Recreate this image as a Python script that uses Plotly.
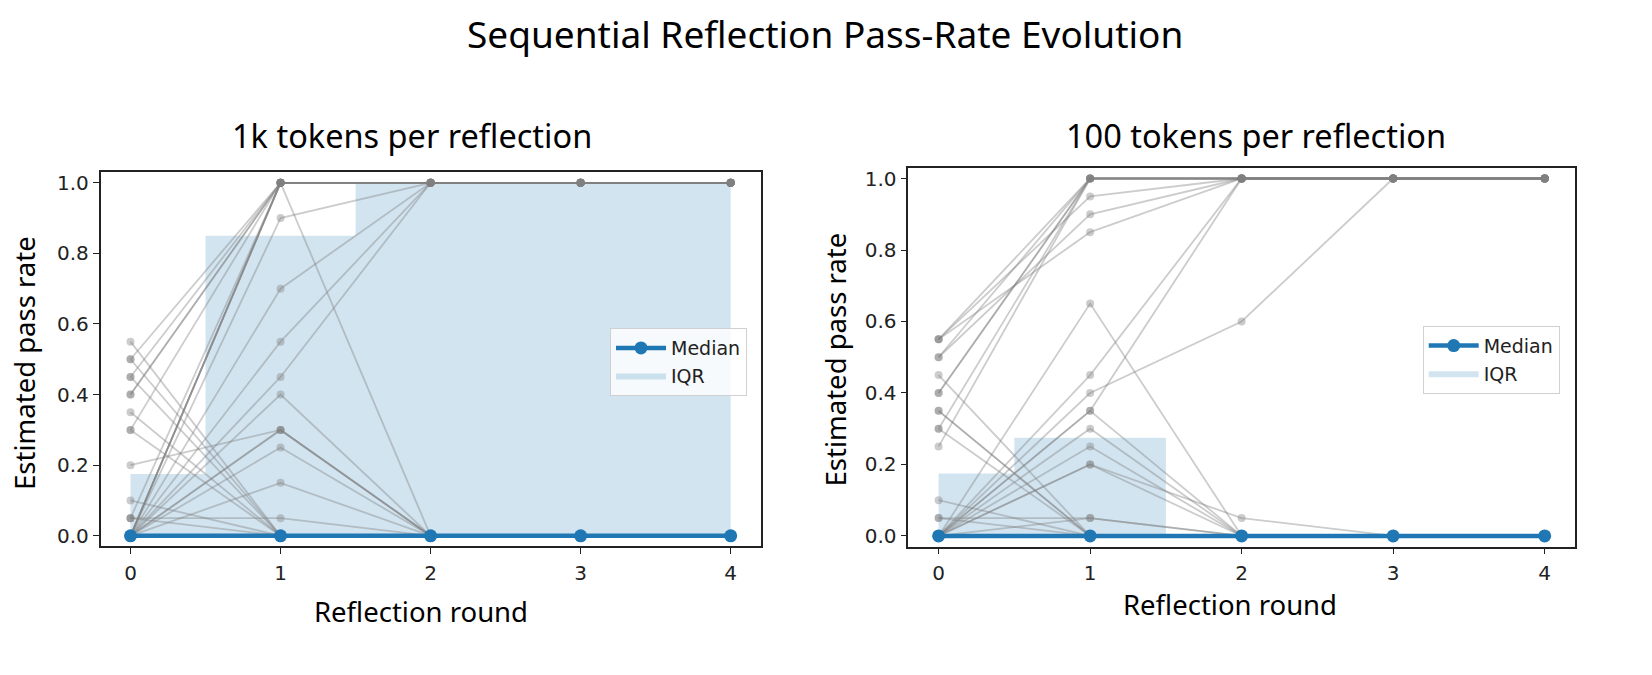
import plotly.graph_objects as go

# ---------------- data ----------------
rounds = [0, 1, 2, 3, 4]

# 1k tokens per reflection: individual trajectories
traj_1k = [
    [0.55, 0.0, 0.0, 0.0, 0.0],
    [0.50, 1.0, 1.0, 1.0, 1.0],
    [0.50, 0.0, 0.0, 0.0, 0.0],
    [0.45, 1.0, 1.0, 1.0, 1.0],
    [0.45, 0.0, 0.0, 0.0, 0.0],
    [0.40, 1.0, 1.0, 1.0, 1.0],
    [0.40, 1.0, 1.0, 1.0, 1.0],
    [0.35, 0.0, 0.0, 0.0, 0.0],
    [0.30, 1.0, 1.0, 1.0, 1.0],
    [0.30, 0.0, 0.0, 0.0, 0.0],
    [0.20, 0.30, 0.0, 0.0, 0.0],
    [0.10, 0.0, 0.0, 0.0, 0.0],
    [0.05, 0.05, 0.0, 0.0, 0.0],
    [0.05, 1.0, 1.0, 1.0, 1.0],
    [0.05, 0.0, 0.0, 0.0, 0.0],
    [0.0, 1.0, 1.0, 1.0, 1.0],
    [0.0, 1.0, 1.0, 1.0, 1.0],
    [0.0, 1.0, 1.0, 1.0, 1.0],
    [0.0, 1.0, 0.0, 0.0, 0.0],
    [0.0, 0.90, 1.0, 1.0, 1.0],
    [0.0, 0.70, 1.0, 1.0, 1.0],
    [0.0, 0.55, 1.0, 1.0, 1.0],
    [0.0, 0.45, 1.0, 1.0, 1.0],
    [0.0, 0.40, 0.0, 0.0, 0.0],
    [0.0, 0.30, 0.0, 0.0, 0.0],
    [0.0, 0.30, 0.0, 0.0, 0.0],
    [0.0, 0.25, 0.0, 0.0, 0.0],
    [0.0, 0.15, 0.0, 0.0, 0.0],
    [0.0, 0.0, 0.0, 0.0, 0.0],
]
median_1k = [0.0, 0.0, 0.0, 0.0, 0.0]
q1_1k = [0.0, 0.0, 0.0, 0.0, 0.0]
q3_1k = [0.175, 0.85, 1.0, 1.0, 1.0]

# 100 tokens per reflection: individual trajectories
traj_100 = [
    [0.55, 1.0, 1.0, 1.0, 1.0],
    [0.55, 0.95, 1.0, 1.0, 1.0],
    [0.55, 0.85, 1.0, 1.0, 1.0],
    [0.50, 1.0, 1.0, 1.0, 1.0],
    [0.50, 0.90, 1.0, 1.0, 1.0],
    [0.45, 0.0, 0.0, 0.0, 0.0],
    [0.40, 1.0, 1.0, 1.0, 1.0],
    [0.40, 1.0, 1.0, 1.0, 1.0],
    [0.35, 0.0, 0.0, 0.0, 0.0],
    [0.35, 0.0, 0.0, 0.0, 0.0],
    [0.30, 0.0, 0.0, 0.0, 0.0],
    [0.30, 1.0, 1.0, 1.0, 1.0],
    [0.25, 1.0, 1.0, 1.0, 1.0],
    [0.10, 0.0, 0.0, 0.0, 0.0],
    [0.05, 0.0, 0.0, 0.0, 0.0],
    [0.05, 0.05, 0.0, 0.0, 0.0],
    [0.0, 0.65, 0.0, 0.0, 0.0],
    [0.0, 0.45, 1.0, 1.0, 1.0],
    [0.0, 0.40, 0.60, 1.0, 1.0],
    [0.0, 0.35, 1.0, 1.0, 1.0],
    [0.0, 0.35, 0.0, 0.0, 0.0],
    [0.0, 0.30, 0.0, 0.0, 0.0],
    [0.0, 0.25, 0.0, 0.0, 0.0],
    [0.0, 0.20, 0.05, 0.0, 0.0],
    [0.0, 0.20, 0.0, 0.0, 0.0],
    [0.0, 0.05, 0.0, 0.0, 0.0],
    [0.0, 0.0, 0.0, 0.0, 0.0],
]
median_100 = [0.0, 0.0, 0.0, 0.0, 0.0]
q1_100 = [0.0, 0.0, 0.0, 0.0, 0.0]
q3_100 = [0.175, 0.275, 0.0, 0.0, 0.0]

main_title = "Sequential Reflection Pass-Rate Evolution"
panel_titles = ["1k tokens per reflection", "100 tokens per reflection"]
x_label = "Reflection round"
y_label = "Estimated pass rate"
x_ticks = [0, 1, 2, 3, 4]
y_ticks = [0.0, 0.2, 0.4, 0.6, 0.8, 1.0]

# ---------------- styles ----------------
W, H = 1652, 675
BLUE = "#1f77b4"
GRAY = "rgba(128,128,128,0.4)"
FILL = "rgba(31,119,180,0.2)"
TXT_FONT = "Noto Sans, Open Sans, sans-serif"
TICK_FONT = "DejaVu Sans, sans-serif"

fig = go.Figure()

panels = [
    dict(traj=traj_1k, med=median_1k, q1=q1_1k, q3=q3_1k, xa="x", ya="y", leg="legend"),
    dict(traj=traj_100, med=median_100, q1=q1_100, q3=q3_100, xa="x2", ya="y2", leg="legend2"),
]

for p in panels:
    # IQR band (step at mid-points)
    fig.add_trace(go.Scatter(
        x=rounds, y=p["q1"], mode="lines", line=dict(width=0, shape="hvh"),
        showlegend=False, hoverinfo="skip", xaxis=p["xa"], yaxis=p["ya"]))
    fig.add_trace(go.Scatter(
        x=rounds, y=p["q3"], mode="lines", line=dict(width=0, shape="hvh"),
        fill="tonexty", fillcolor=FILL, name="IQR", legend=p["leg"],
        hoverinfo="skip", xaxis=p["xa"], yaxis=p["ya"]))
    # individual trajectories
    for t in p["traj"]:
        fig.add_trace(go.Scatter(
            x=rounds, y=t, mode="lines+markers",
            line=dict(color=GRAY, width=1.8),
            marker=dict(color=GRAY, size=8, line=dict(width=0)),
            showlegend=False, hoverinfo="skip", xaxis=p["xa"], yaxis=p["ya"]))
    # median
    fig.add_trace(go.Scatter(
        x=rounds, y=p["med"], mode="lines+markers", name="Median",
        line=dict(color=BLUE, width=4.5), marker=dict(color=BLUE, size=13),
        legend=p["leg"], xaxis=p["xa"], yaxis=p["ya"]))

axis_common = dict(
    showgrid=False, zeroline=False, showline=True, mirror=True,
    linecolor="#222", linewidth=1.5, ticks="outside", ticklen=6, tickwidth=1.3,
    tickcolor="#222", tickfont=dict(family=TICK_FONT, size=20, color="#222"),
)

legend_common = dict(
    xanchor="left", yanchor="top", traceorder="reversed",
    bgcolor="rgba(255,255,255,0.8)", bordercolor="#d0d0d0", borderwidth=1,
    font=dict(family=TICK_FONT, size=19, color="#222"), itemwidth=50,
    tracegroupgap=2,
)

fig.update_layout(
    width=W, height=H, autosize=False,
    margin=dict(l=0, r=0, t=0, b=0),
    paper_bgcolor="white", plot_bgcolor="white",
    xaxis=dict(domain=[100.5 / W, 760.7 / W], range=[-0.2, 4.2], tickvals=x_ticks,
               anchor="y", ticklabelstandoff=2, **axis_common),
    yaxis=dict(domain=[(H - 547) / H, (H - 171.7) / H], range=[-0.03, 1.03],
               tickvals=y_ticks, tickformat=".1f", anchor="x", **axis_common),
    xaxis2=dict(domain=[908.3 / W, 1575 / W], range=[-0.2, 4.2], tickvals=x_ticks,
                anchor="y2", ticklabelstandoff=2, **axis_common),
    yaxis2=dict(domain=[(H - 547.3) / H, (H - 167.3) / H], range=[-0.03, 1.03],
                tickvals=y_ticks, tickformat=".1f", anchor="x2", **axis_common),
    legend=dict(x=610 / W, y=(H - 328) / H, **legend_common),
    legend2=dict(x=1422.7 / W, y=(H - 325.7) / H, **legend_common),
    showlegend=True,
)

ann = []
ann.append(dict(text=main_title, x=825 / W, y=(H - 33) / H, xref="paper", yref="paper",
                xanchor="center", yanchor="middle", showarrow=False,
                font=dict(family=TXT_FONT, size=37, color="black")))
ann.append(dict(text=panel_titles[0], x=411.5 / W, y=(H - 135) / H, xref="paper", yref="paper",
                xanchor="center", yanchor="middle", showarrow=False,
                font=dict(family=TXT_FONT, size=32.5, color="black")))
ann.append(dict(text=panel_titles[1], x=1256 / W, y=(H - 135) / H, xref="paper", yref="paper",
                xanchor="center", yanchor="middle", showarrow=False,
                font=dict(family=TXT_FONT, size=32.5, color="black")))
ann.append(dict(text=x_label, x=421.4 / W, y=(H - 612) / H, xref="paper", yref="paper",
                xanchor="center", yanchor="middle", showarrow=False,
                font=dict(family=TXT_FONT, size=27.5, color="black")))
ann.append(dict(text=x_label, x=1230 / W, y=(H - 605) / H, xref="paper", yref="paper",
                xanchor="center", yanchor="middle", showarrow=False,
                font=dict(family=TXT_FONT, size=27.5, color="black")))
ann.append(dict(text=y_label, x=25 / W, y=(H - 363) / H, xref="paper", yref="paper",
                xanchor="center", yanchor="middle", showarrow=False, textangle=-90,
                font=dict(family=TXT_FONT, size=27.5, color="black")))
ann.append(dict(text=y_label, x=835.5 / W, y=(H - 360) / H, xref="paper", yref="paper",
                xanchor="center", yanchor="middle", showarrow=False, textangle=-90,
                font=dict(family=TXT_FONT, size=27.5, color="black")))
fig.update_layout(annotations=ann)

fig.write_html("out.html")
